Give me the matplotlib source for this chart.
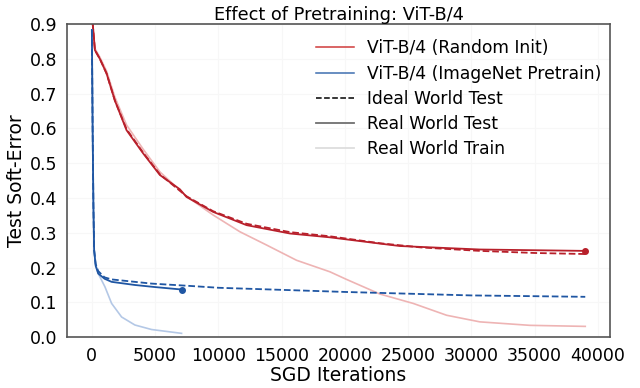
import numpy as np
import matplotlib
matplotlib.use("Agg")
import matplotlib.pyplot as plt
from matplotlib.lines import Line2D

# values
# ViT-B/4, random init
rand_test_x = [0, 240, 630, 1160, 1820, 2740, 4060, 5380, 6960, 7480, 9590, 12230,
               15650, 18810, 22770, 24350, 30670, 39000]
rand_test_y = [0.93, 0.825, 0.80, 0.758, 0.68, 0.595, 0.528, 0.466, 0.425, 0.403, 0.36,
               0.322, 0.298, 0.287, 0.269, 0.262, 0.252, 0.248]
rand_ideal_x = [0, 240, 630, 1160, 1820, 2740, 4060, 5380, 7480, 9590, 12230, 15650,
                18810, 22770, 26000, 30670, 35000, 39000]
rand_ideal_y = [0.93, 0.825, 0.80, 0.758, 0.68, 0.598, 0.53, 0.468, 0.405, 0.362, 0.326,
                0.302, 0.29, 0.27, 0.258, 0.248, 0.242, 0.239]
rand_train_x = [0, 240, 630, 1160, 1820, 2740, 4060, 5380, 7480, 9590, 11700, 13800,
                16180, 18810, 20130, 22770, 25400, 28040, 30670, 34620, 39000]
rand_train_y = [0.93, 0.83, 0.805, 0.765, 0.69, 0.61, 0.54, 0.475, 0.405, 0.351, 0.303,
                0.265, 0.221, 0.188, 0.166, 0.124, 0.097, 0.063, 0.044, 0.034, 0.031]

# ViT-B/4, ImageNet pretrain
pre_test_x = [0, 60, 120, 180, 300, 500, 1000, 1560, 3400, 5000, 7090]
pre_test_y = [0.883, 0.6, 0.38, 0.25, 0.205, 0.183, 0.168, 0.159, 0.15, 0.144, 0.137]
pre_ideal_x = [0, 60, 120, 180, 300, 500, 1000, 1560, 4720, 7880, 10000, 15000, 20000,
               25000, 30000, 39000]
pre_ideal_y = [0.883, 0.6, 0.38, 0.25, 0.21, 0.19, 0.172, 0.166, 0.154, 0.147, 0.142,
               0.136, 0.13, 0.125, 0.12, 0.116]
pre_train_x = [0, 60, 120, 180, 300, 500, 1030, 1560, 2350, 3400, 4720, 7090]
pre_train_y = [0.883, 0.6, 0.38, 0.25, 0.21, 0.183, 0.145, 0.097, 0.058, 0.035, 0.022, 0.011]

red = "#b8202b"
red_light = "#eeb4b4"
blue = "#1f56a3"
blue_light = "#b4c8e6"

fig = plt.figure(figsize=(6.4, 3.88), dpi=100)
ax = fig.add_axes([0.105, 0.131, 0.848, 0.807])

ax.plot(rand_train_x, rand_train_y, color=red_light, lw=1.2)
ax.plot(rand_ideal_x, rand_ideal_y, color=red, lw=1.3, ls="--")
ax.plot(rand_test_x, rand_test_y, color=red, lw=1.3)
ax.plot(rand_test_x[-1], rand_test_y[-1], "o", color=red, ms=4)

ax.plot(pre_train_x, pre_train_y, color=blue_light, lw=1.2)
ax.plot(pre_ideal_x, pre_ideal_y, color=blue, lw=1.3, ls="--")
ax.plot(pre_test_x, pre_test_y, color=blue, lw=1.3)
ax.plot(pre_test_x[-1], pre_test_y[-1], "o", color=blue, ms=4)

ax.set_xlim(-1950, 40950)
ax.set_ylim(0, 0.9)
ax.set_xticks(np.arange(0, 40001, 5000))
ax.set_yticks(np.arange(0, 0.91, 0.1))
ax.tick_params(labelsize=12.5, length=0, pad=7)
ax.grid(color="#f7f7f7", lw=0.8)
for s in ax.spines.values():
    s.set_color("#555555")
    s.set_linewidth(1.2)

ax.set_xlabel("SGD Iterations", fontsize=13.5, labelpad=1)
ax.set_ylabel("Test Soft-Error", fontsize=13.5, labelpad=3)
ax.set_title("Effect of Pretraining: ViT-B/4", fontsize=12.8, pad=3)

handles = [
    Line2D([], [], color="#d03a3a", lw=1.1),
    Line2D([], [], color="#3f6fb0", lw=1.1),
    Line2D([], [], color="black", lw=1.1, ls="--"),
    Line2D([], [], color="#707070", lw=1.3),
    Line2D([], [], color="#dddddd", lw=1.3),
]
labels = ["ViT-B/4 (Random Init)", "ViT-B/4 (ImageNet Pretrain)", "Ideal World Test",
          "Real World Test", "Real World Train"]
ax.legend(handles, labels, loc="upper right", frameon=False, fontsize=12.3,
          handlelength=2.2, labelspacing=0.42, bbox_to_anchor=(1.013, 1.0))

fig.savefig("out.png", dpi=100)
